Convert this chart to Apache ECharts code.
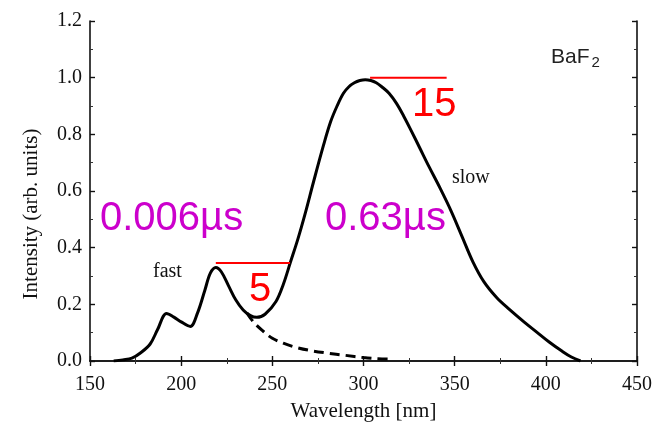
<!DOCTYPE html>
<html>
<head>
<meta charset="utf-8">
<script src="https://cdn.jsdelivr.net/npm/echarts@6/dist/echarts.min.js"></script>
<style>html,body{margin:0;padding:0;background:#fff}#c{width:672px;height:427px}</style>
</head>
<body>
<div id="c"></div>
<script>
// Axis ticks
var xTicks = [150, 200, 250, 300, 350, 400, 450];
var yTicks = [0.0, 0.2, 0.4, 0.6, 0.8, 1.0, 1.2];

// Total emission (solid)
var mainX = [163, 168, 173, 178, 183, 187, 192, 196, 200, 205, 209, 213, 216, 219, 222, 226, 230, 234, 238, 241.5, 246, 252, 256, 260, 264, 268, 272.5, 278, 282, 285.5, 289, 292, 295, 298, 301, 304, 307, 310, 314, 318, 322, 326, 331, 336, 342, 348, 354, 360, 366, 373, 380, 388, 395, 402, 409, 414, 419];
var mainY = [0.0, 0.004, 0.01, 0.03, 0.06, 0.11, 0.168, 0.155, 0.138, 0.122, 0.17, 0.25, 0.31, 0.33, 0.315, 0.265, 0.215, 0.18, 0.16, 0.154, 0.165, 0.21, 0.27, 0.35, 0.43, 0.52, 0.63, 0.76, 0.845, 0.9, 0.945, 0.968, 0.982, 0.99, 0.993, 0.99, 0.982, 0.968, 0.945, 0.91, 0.865, 0.815, 0.75, 0.685, 0.61, 0.53, 0.44, 0.35, 0.28, 0.224, 0.182, 0.138, 0.102, 0.066, 0.034, 0.014, 0.0];

// Fast component tail (dashed)
var fastX = [236, 240, 245, 250, 256, 262, 270, 280, 290, 300, 308, 315];
var fastY = [0.17, 0.135, 0.105, 0.08, 0.063, 0.05, 0.038, 0.028, 0.02, 0.012, 0.008, 0.007];

// Red annotation lines
var red15X = [303.6, 345.6];
var red15Y = [1.0, 1.0];
var red5X = [219, 259.7];
var red5Y = [0.346, 0.346];

function pairs(xs, ys) { return xs.map(function (x, i) { return [x, ys[i]]; }); }

var chart = echarts.init(document.getElementById('c'), null, { renderer: 'canvas' });
var serif = 'Liberation Serif';
var sans = 'Liberation Sans';
var axisLineStyle = { color: '#111', width: 1.6 };

var option = {
  animation: false,
  backgroundColor: '#fff',
  grid: { left: 90, right: 35, top: 21, bottom: 63, containLabel: false },
  xAxis: [{
    type: 'value', min: xTicks[0], max: xTicks[xTicks.length - 1], interval: 50,
    axisLine: { show: true, lineStyle: axisLineStyle },
    axisTick: { show: true, inside: true, length: 5, lineStyle: { color: '#111', width: 1.4 } },
    minorTick: { show: true, splitNumber: 2, length: 3, lineStyle: { color: '#333', width: 1 } },
    splitLine: { show: false },
    axisLabel: { fontFamily: serif, fontSize: 20, color: '#111', margin: 14 },
    name: 'Wavelength [nm]', nameLocation: 'middle', nameGap: 40,
    nameTextStyle: { fontFamily: serif, fontSize: 21, color: '#111' }
  }, {
    type: 'value', position: 'top', min: xTicks[0], max: xTicks[xTicks.length - 1], interval: 50,
    axisLine: { show: true, lineStyle: axisLineStyle },
    axisTick: { show: true, inside: true, length: 5, lineStyle: { color: '#111', width: 1.4 } },
    minorTick: { show: true, splitNumber: 2, length: 3, lineStyle: { color: '#333', width: 1 } },
    splitLine: { show: false }, axisLabel: { show: false }
  }],
  yAxis: [{
    type: 'value', min: yTicks[0], max: yTicks[yTicks.length - 1], interval: 0.2,
    axisLine: { show: true, lineStyle: axisLineStyle },
    axisTick: { show: true, inside: true, length: 5, lineStyle: { color: '#111', width: 1.4 } },
    minorTick: { show: true, splitNumber: 2, length: 3, lineStyle: { color: '#333', width: 1 } },
    splitLine: { show: false },
    axisLabel: { fontFamily: serif, fontSize: 20, color: '#111', margin: 8, padding: [0, 0, 10, 0],
      formatter: function (v) { return v.toFixed(1); } }
  }, {
    type: 'value', position: 'right', min: yTicks[0], max: yTicks[yTicks.length - 1], interval: 0.2,
    axisLine: { show: true, lineStyle: axisLineStyle },
    axisTick: { show: true, inside: true, length: 5, lineStyle: { color: '#111', width: 1.4 } },
    minorTick: { show: true, splitNumber: 2, length: 3, lineStyle: { color: '#333', width: 1 } },
    splitLine: { show: false }, axisLabel: { show: false }
  }],
  series: [{
    name: 'total', type: 'line', data: pairs(mainX, mainY), showSymbol: false, smooth: 0.35,
    lineStyle: { color: '#000', width: 3 }, z: 3
  }, {
    name: 'fast', type: 'line', data: pairs(fastX, fastY), showSymbol: false, smooth: 0.35,
    lineStyle: { color: '#000', width: 3, type: [10, 6] }, z: 3
  }, {
    name: 'red15', type: 'line', data: pairs(red15X, red15Y), showSymbol: false,
    lineStyle: { color: '#ff0000', width: 2 }, z: 4
  }, {
    name: 'red5', type: 'line', data: pairs(red5X, red5Y), showSymbol: false,
    lineStyle: { color: '#ff0000', width: 2 }, z: 4
  }],
  graphic: [
    { type: 'text', x: 31, y: 214, rotation: Math.PI / 2,
      style: { text: 'Intensity (arb. units)', font: '21px "Liberation Serif"', fill: '#111', align: 'center', verticalAlign: 'middle' } },
    { type: 'text', x: 100, y: 219, z: 10,
      style: { text: '0.006\u00b5s', font: '40px "Liberation Sans"', fill: '#cc00cc', align: 'left', verticalAlign: 'middle' } },
    { type: 'text', x: 325, y: 219, z: 10,
      style: { text: '0.63\u00b5s', font: '40px "Liberation Sans"', fill: '#cc00cc', align: 'left', verticalAlign: 'middle' } },
    { type: 'text', x: 412, y: 105, z: 10,
      style: { text: '15', font: '40px "Liberation Sans"', fill: '#ff0000', align: 'left', verticalAlign: 'middle' } },
    { type: 'text', x: 249, y: 290, z: 10,
      style: { text: '5', font: '40px "Liberation Sans"', fill: '#ff0000', align: 'left', verticalAlign: 'middle' } },
    { type: 'text', x: 153, y: 272, z: 10,
      style: { text: 'fast', font: '20px "Liberation Serif"', fill: '#111', align: 'left', verticalAlign: 'middle' } },
    { type: 'text', x: 452, y: 178, z: 10,
      style: { text: 'slow', font: '20px "Liberation Serif"', fill: '#111', align: 'left', verticalAlign: 'middle' } },
    { type: 'text', x: 551, y: 57, z: 10,
      style: { text: '{a|BaF}{b|2}', align: 'left', verticalAlign: 'middle',
        rich: { a: { fontFamily: sans, fontSize: 21, fill: '#222', color: '#222' },
                b: { fontFamily: sans, fontSize: 15, fill: '#222', color: '#222', padding: [12, 0, 0, 2] } } } }
  ]
};
chart.setOption(option);
</script>
</body>
</html>
